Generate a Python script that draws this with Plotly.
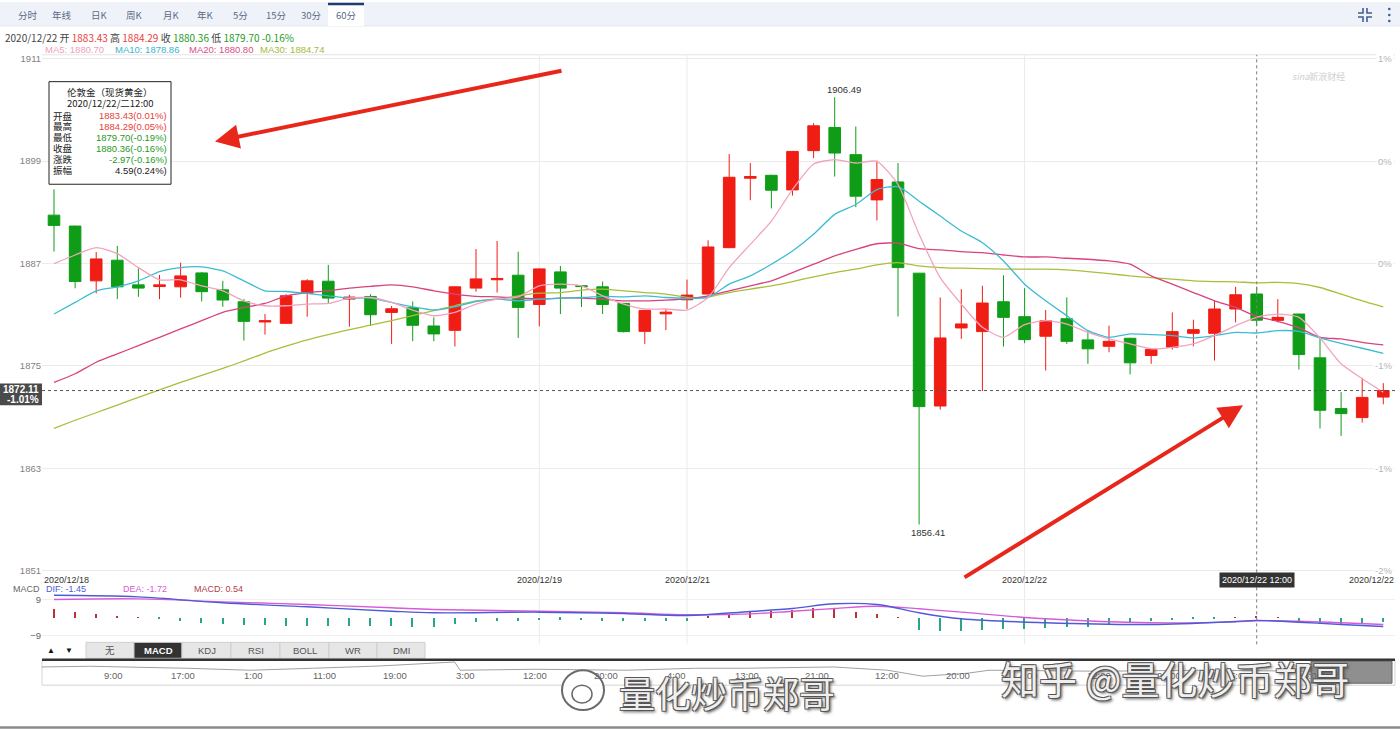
import plotly.graph_objects as go

W, H = 1400, 730
def fx(p): return p / W
def fy(p): return 1 - p / H

# ---------------- data ----------------
OPEN = [1892.67, 1891.39, 1884.97, 1887.39, 1884.50, 1884.30, 1884.27, 1885.90, 1883.92, 1882.52,
        1880.15, 1879.99, 1883.50, 1884.93, 1882.83, 1883.14, 1881.27, 1881.82, 1879.68, 1879.17,
        1884.12, 1885.10, 1885.63, 1882.20, 1886.02, 1884.40, 1884.27, 1882.33, 1879.05, 1881.10,
        1882.75, 1883.42, 1888.86, 1897.00, 1897.34, 1895.63, 1900.23, 1902.95, 1899.76, 1894.46,
        1896.56, 1885.87, 1870.30, 1879.45, 1879.02, 1882.52, 1880.77, 1878.48, 1880.53, 1878.05,
        1877.30, 1878.24, 1876.22, 1877.19, 1878.82, 1878.82, 1881.67, 1883.43, 1880.34, 1881.08,
        1875.95, 1870.00, 1868.94, 1871.35]
HIGH = [1895.70, 1891.45, 1888.35, 1889.06, 1886.45, 1885.67, 1887.10, 1886.00, 1884.97, 1882.83,
        1881.08, 1883.42, 1885.17, 1886.84, 1883.34, 1883.40, 1882.02, 1882.55, 1880.69, 1884.30,
        1888.70, 1889.64, 1888.39, 1886.40, 1886.72, 1884.47, 1884.89, 1882.40, 1881.50, 1881.67,
        1885.12, 1889.72, 1899.83, 1898.78, 1897.40, 1900.20, 1903.45, 1906.49, 1903.06, 1899.06,
        1898.78, 1885.90, 1883.03, 1884.00, 1884.39, 1885.63, 1884.12, 1881.55, 1883.03, 1879.13,
        1879.72, 1878.30, 1877.00, 1881.27, 1880.42, 1882.64, 1884.27, 1884.29, 1882.83, 1881.10,
        1878.43, 1871.93, 1873.61, 1872.98]
LOW = [1888.40, 1884.10, 1883.50, 1882.83, 1883.10, 1882.83, 1883.00, 1882.56, 1881.93, 1877.97,
       1878.67, 1879.90, 1880.77, 1882.25, 1879.60, 1879.68, 1877.58, 1877.90, 1877.90, 1877.27,
       1883.70, 1883.60, 1878.28, 1879.63, 1881.08, 1881.90, 1881.08, 1878.90, 1877.58, 1879.20,
       1881.67, 1883.40, 1888.80, 1894.42, 1893.46, 1894.97, 1899.36, 1897.19, 1893.61, 1892.05,
       1880.80, 1856.41, 1869.88, 1878.16, 1872.05, 1877.27, 1877.66, 1874.46, 1877.58, 1875.25,
       1876.60, 1874.00, 1875.25, 1876.92, 1877.30, 1875.63, 1880.10, 1879.70, 1880.10, 1874.58,
       1867.66, 1866.80, 1868.36, 1870.50]
CLOSE = [1891.47, 1884.89, 1887.54, 1884.27, 1884.12, 1884.50, 1885.55, 1883.70, 1882.72, 1880.22,
         1880.30, 1883.22, 1884.97, 1882.95, 1883.07, 1881.00, 1881.70, 1879.76, 1878.75, 1884.27,
         1885.20, 1885.25, 1881.86, 1886.37, 1884.12, 1884.30, 1882.20, 1879.02, 1881.50, 1881.30,
         1883.30, 1888.94, 1897.11, 1897.20, 1895.59, 1900.14, 1903.14, 1899.95, 1894.89, 1896.84,
         1886.52, 1870.23, 1878.28, 1879.92, 1882.37, 1880.69, 1878.08, 1880.30, 1877.88, 1877.00,
         1877.88, 1875.36, 1876.95, 1879.02, 1879.25, 1881.67, 1883.34, 1880.36, 1880.69, 1876.33,
         1869.80, 1869.41, 1871.31, 1872.11]

MA5 = [1886.99, 1888.00, 1888.86, 1888.16, 1886.52, 1885.09, 1885.09, 1884.39, 1883.80, 1882.63,
       1882.05, 1882.05, 1882.25, 1882.32, 1882.95, 1883.02, 1882.44, 1881.55, 1880.88, 1881.27,
       1882.25, 1882.83, 1883.10, 1884.39, 1884.58, 1884.39, 1883.22, 1882.25, 1881.67, 1881.67,
       1881.55, 1883.02, 1886.52, 1889.25, 1891.97, 1895.67, 1898.66, 1899.18, 1898.78, 1898.98,
       1896.26, 1890.42, 1885.35, 1882.25, 1879.52, 1878.35, 1879.83, 1880.30, 1879.91, 1878.93,
       1878.16, 1877.58, 1877.00, 1877.18, 1877.58, 1878.55, 1879.72, 1880.70, 1881.08, 1880.69,
       1878.28, 1875.25, 1873.50, 1871.93]
MA10 = [1881.08, 1882.44, 1883.80, 1884.27, 1884.97, 1886.05, 1886.52, 1886.60, 1886.14, 1884.97,
        1883.80, 1883.72, 1883.49, 1883.22, 1882.95, 1882.95, 1882.44, 1881.93, 1881.55, 1881.93,
        1882.55, 1882.83, 1882.63, 1882.83, 1882.95, 1883.02, 1883.14, 1883.10, 1883.22, 1883.02,
        1882.93, 1883.02, 1884.58, 1885.55, 1886.92, 1888.47, 1890.42, 1892.76, 1893.92, 1895.67,
        1896.00, 1894.31, 1892.56, 1890.81, 1889.44, 1887.30, 1884.58, 1882.63, 1880.88, 1879.13,
        1878.35, 1878.75, 1878.67, 1878.55, 1878.28, 1878.55, 1878.93, 1878.86, 1879.13, 1879.05,
        1878.28, 1877.65, 1877.07, 1876.48]
MA20 = [1873.06, 1874.08, 1875.43, 1876.41, 1877.38, 1878.35, 1879.33, 1880.30, 1881.27, 1881.85,
        1882.32, 1883.22, 1883.60, 1883.80, 1884.12, 1884.33, 1884.50, 1884.27, 1883.80, 1883.42,
        1883.14, 1883.10, 1882.95, 1882.83, 1882.95, 1882.95, 1882.83, 1882.63, 1882.63, 1882.72,
        1882.87, 1883.22, 1883.80, 1884.39, 1884.97, 1885.94, 1886.92, 1887.89, 1888.67, 1889.32,
        1889.40, 1888.74, 1888.59, 1888.39, 1888.27, 1888.00, 1887.77, 1887.77, 1887.62, 1887.50,
        1887.30, 1886.92, 1885.55, 1884.58, 1883.60, 1882.63, 1881.85, 1880.80, 1880.22, 1879.45,
        1878.35, 1878.16, 1877.77, 1877.46]
MA30 = [1867.69, 1868.63, 1869.51, 1870.41, 1871.31, 1872.20, 1873.06, 1873.88, 1874.70, 1875.58,
        1876.51, 1877.31, 1878.05, 1878.67, 1879.26, 1879.77, 1880.30, 1880.88, 1881.47, 1882.05,
        1882.63, 1882.83, 1883.22, 1883.53, 1883.60, 1883.88, 1884.00, 1883.80, 1883.60, 1883.42,
        1883.04, 1883.10, 1883.60, 1884.00, 1884.39, 1884.89, 1885.44, 1885.94, 1886.34, 1886.84,
        1887.11, 1886.72, 1886.52, 1886.45, 1886.40, 1886.34, 1886.34, 1886.34, 1886.25, 1886.05,
        1885.82, 1885.55, 1885.35, 1885.17, 1884.97, 1884.89, 1884.85, 1884.74, 1884.79, 1884.65,
        1884.19, 1883.42, 1882.63, 1881.93]

DIF_IDX = [0, 4, 8, 12, 16, 18, 23, 27, 30, 33, 35, 37, 39, 41, 43, 47, 52, 56, 57, 59, 61, 63]
DIF = [11.15, 10.35, 7.35, 5.35, 3.15, 2.35, 2.65, 2.0, 1.0, 3.0, 4.5, 6.85, 6.5, 2.35, -0.65,
       -2.65, -3.5, -2.0, -1.45, -2.4, -3.5, -4.5]
DEA_IDX = [0, 4, 8, 12, 16, 18, 23, 27, 30, 33, 35, 37, 39, 41, 43, 47, 52, 56, 57, 59, 61, 63]
DEA = [9.0, 9.35, 7.85, 6.5, 4.85, 4.0, 3.15, 2.35, 1.35, 1.8, 3.15, 4.5, 5.65, 4.35, 2.65,
       -0.65, -2.65, -2.2, -1.72, -1.9, -2.65, -3.5]
MACD_HIST = [4.5, 3.0, 2.0, 0.5, 0.1, -0.8, -1.7, -2.5, -3.0, -3.8,
             -3.8, -4.0, -4.0, -4.2, -4.2, -4.2, -4.2, -4.5, -4.5, -3.2,
             -2.0, -1.5, -1.5, -1.2, -1.0, -1.2, -1.5, -1.5, -1.5, -1.5,
             -1.5, 0.8, 1.7, 2.8, 3.3, 4.2, 5.0, 4.5, 2.8, 2.2,
             0.3, -6.2, -6.7, -6.7, -6.2, -5.5, -5.5, -5.0, -4.5, -4.5,
             -3.8, -2.5, -1.7, -1.2, -0.8, -0.5, 0.3, 0.54, 0.3, -2.5,
             -3.0, -3.0, -2.5, -2.0]

PRICE_TICKS = [1851, 1863, 1875, 1887, 1899, 1911]
PCT_LABELS = ["-2%", "-1%", "-1%", "0%", "0%", "1%"]
DAY_IDX = [23, 30, 46]
DAY_LABELS = ["2020/12/19", "2020/12/21", "2020/12/22"]
FIRST_DAY = "2020/12/18"
LAST_DAY = "2020/12/22"
SEL_IDX = 57
SEL_LABEL = "2020/12/22 12:00"
LAST_PRICE = 1872.11
LAST_PCT = "-1.01%"
PREV_CLOSE = 1883.33
TABS = ["分时", "年线", "日K", "周K", "月K", "年K", "5分", "15分", "30分", "60分"]
IND_TABS = ["无", "MACD", "KDJ", "RSI", "BOLL", "WR", "DMI"]
NAV_T = [0.0, 0.035, 0.107, 0.154, 0.2, 0.25, 0.305, 0.309, 0.365, 0.431, 0.483, 0.52, 0.585,
         0.625, 0.651, 0.684, 0.7, 0.782, 0.856, 0.938]
NAV_V = [18.3, 19, 17, 15, 17, 19.3, 23.3, 15, 16, 15, 17, 17, 18.3, 15, 9, 12, 15, 14, 15, 14]
NAV_LABELS = ["9:00", "17:00", "1:00", "11:00", "19:00", "3:00", "12:00", "20:00", "4:00",
              "13:00", "21:00", "12:00", "20:00", "4:00", "12:00", "21:00", "5:00", "13:00"]

# ---------------- styles / layout helpers ----------------
RED = "#f01d14"
GREEN = "#0f9d18"
C_MA5, C_MA10, C_MA20, C_MA30 = "#f2a3bf", "#3cbcd3", "#d8437f", "#a9bf3b"
FONT = "Liberation Sans, Arial, Noto Sans CJK SC, sans-serif"
CJK = "Noto Sans CJK SC, Liberation Sans, sans-serif"

X0_PX, DX_PX = 54.0, 21.1          # pixel of candle 0, pixel step
PY_1911, PX_PER_UNIT = 57.0, 8.567
L_PX, R_PX = 42, 1395
MAIN_TOP, MAIN_BOT = 53, 575
MACD_TOP, MACD_BOT, MACD_ZERO, MACD_UPP = 592, 645, 618, 0.5

def idx_of(px): return (px - X0_PX) / DX_PX
def val_of(py): return 1911 - (py - PY_1911) / PX_PER_UNIT

IDX = list(range(len(OPEN)))

fig = go.Figure()

fig.add_trace(go.Candlestick(
    x=IDX, open=OPEN, high=HIGH, low=LOW, close=CLOSE,
    increasing=dict(line=dict(color=RED, width=1), fillcolor=RED),
    decreasing=dict(line=dict(color=GREEN, width=1), fillcolor=GREEN),
    whiskerwidth=0, xaxis="x", yaxis="y", hoverinfo="skip"))

for arr, col in [(MA30, C_MA30), (MA20, C_MA20), (MA10, C_MA10), (MA5, C_MA5)]:
    fig.add_trace(go.Scatter(x=IDX, y=arr, mode="lines", xaxis="x", yaxis="y",
                             line=dict(color=col, width=1.3, shape="spline", smoothing=0.6),
                             hoverinfo="skip"))

fig.add_trace(go.Bar(x=IDX, y=MACD_HIST, width=0.07, xaxis="x2", yaxis="y2",
                     marker=dict(color=["#b8323c" if v > 0 else "#2aa58c" for v in MACD_HIST],
                                 line=dict(width=0)), hoverinfo="skip"))
fig.add_trace(go.Scatter(x=DEA_IDX, y=DEA, mode="lines", xaxis="x2", yaxis="y2",
                         line=dict(color="#d85ad8", width=1.4, shape="spline"), hoverinfo="skip"))
fig.add_trace(go.Scatter(x=DIF_IDX, y=DIF, mode="lines", xaxis="x2", yaxis="y2",
                         line=dict(color="#4c5cd6", width=1.4, shape="spline"), hoverinfo="skip"))

fig.add_trace(go.Scatter(x=NAV_T, y=NAV_V, mode="lines", xaxis="x3", yaxis="y3",
                         line=dict(color="#a0a0a0", width=1), hoverinfo="skip"))

shapes = []
ann = []

def rect(x0, y0, x1, y1, fill, line=None, lw=1, layer="below"):
    shapes.append(dict(type="rect", xref="paper", yref="paper", x0=fx(x0), x1=fx(x1),
                       y0=fy(y1), y1=fy(y0), fillcolor=fill,
                       line=dict(color=line or fill, width=lw if line else 0), layer=layer))

def hline(x0, x1, y, color, w=1, dash="solid", layer="below"):
    shapes.append(dict(type="line", xref="paper", yref="paper", x0=fx(x0), x1=fx(x1),
                       y0=fy(y), y1=fy(y), line=dict(color=color, width=w, dash=dash), layer=layer))

def text(x, y, t, size=10, color="#333", xa="left", ya="middle", family=FONT, **kw):
    ann.append(dict(x=fx(x), y=fy(y), xref="paper", yref="paper", text=t, showarrow=False,
                    xanchor=xa, yanchor=ya, font=dict(size=size, color=color, family=family), **kw))

# toolbar
rect(0, 0, 1400, 24, "#eff3f9")
hline(0, 1400, 24, "#dfe5ee")
rect(328, 1, 364, 24, "#ffffff")
hline(328, 364, 2, "#1f3c74", w=2.5)
tab_cx = [28, 62, 99, 134, 171, 206, 240, 276, 311, 346]
for t, cx in zip(TABS, tab_cx):
    text(cx, 13, t, size=9.5, color="#5a6a88", xa="center", family=CJK)
icon = "#3f5f94"
for (a, b, c, d) in [(1358, 11, 1363, 6), (1372, 11, 1367, 6), (1358, 15, 1363, 20), (1372, 15, 1367, 20)]:
    shapes.append(dict(type="path", xref="paper", yref="paper",
                       path=f"M{fx(a)},{fy(b)} L{fx(c)},{fy(b)} L{fx(c)},{fy(d)}",
                       line=dict(color=icon, width=1.6)))
for yy in (7, 13, 19):
    shapes.append(dict(type="circle", xref="paper", yref="paper", x0=fx(1388), x1=fx(1390.6),
                       y0=fy(yy + 1.3), y1=fy(yy - 1.3), fillcolor=icon, line=dict(width=0)))

# header info
o, h, l, c = OPEN[SEL_IDX], HIGH[SEL_IDX], LOW[SEL_IDX], CLOSE[SEL_IDX]
chg = c - PREV_CLOSE
rc, gc = "#e8403a", "#1f9a25"
text(3, 36, f"2020/12/22 开 <span style='color:{rc}'>{o:.2f}</span> 高 <span style='color:{rc}'>{h:.2f}</span>"
     f" 收 <span style='color:{gc}'>{c:.2f}</span> 低 <span style='color:{gc}'>{l:.2f}</span>"
     f" <span style='color:{gc}'>{chg / PREV_CLOSE * 100:.2f}%</span>", size=10, color="#444", family=CJK)
for xx, lab, v, col in [(43, "MA5", MA5, "#f09fba"), (113, "MA10", MA10, "#38b5cf"),
                        (187, "MA20", MA20, "#dc4d88"), (258, "MA30", MA30, "#a4b93c")]:
    text(xx, 47.5, f"{lab}: {v[SEL_IDX]:.2f}", size=9.5, color=col)

# main panel borders / grid
hline(L_PX, R_PX, MAIN_TOP, "#e4e4e4")
for d in DAY_IDX:
    shapes.append(dict(type="line", xref="x", yref="paper", x0=d, x1=d, y0=fy(MACD_BOT), y1=fy(MAIN_TOP),
                       line=dict(color="#ebebeb", width=1), layer="below"))
shapes.append(dict(type="line", xref="x", yref="paper", x0=SEL_IDX, x1=SEL_IDX, y0=fy(MACD_BOT),
                   y1=fy(MAIN_TOP), line=dict(color="#7a7a7a", width=1, dash="dot"), layer="above"))
shapes.append(dict(type="line", xref="paper", yref="y", x0=fx(L_PX), x1=fx(R_PX), y0=LAST_PRICE,
                   y1=LAST_PRICE, line=dict(color="#555", width=1, dash="3px,3px"), layer="above"))
rect(0, 383, 42, 405, "#4a4a4a", layer="above")
ann.append(dict(x=fx(41), y=fy(389), xref="paper", yref="paper", text=f"<b>{LAST_PRICE:.2f}</b>",
                showarrow=False, xanchor="right", font=dict(size=10, color="white", family=FONT)))
ann.append(dict(x=fx(41), y=fy(399), xref="paper", yref="paper", text=f"<b>{LAST_PCT}</b>",
                showarrow=False, xanchor="right", font=dict(size=10, color="white", family=FONT)))

# right percent labels
for pv, pl in zip(PRICE_TICKS, PCT_LABELS):
    ann.append(dict(x=fx(1394), y=pv, xref="paper", yref="y", text=pl, showarrow=False,
                    xanchor="right", yanchor="middle", bgcolor="white",
                    font=dict(size=9.5, color="#b5b5b5", family=FONT)))

# extreme labels
hi_i = HIGH.index(max(HIGH)); lo_i = LOW.index(min(LOW))
ann.append(dict(x=hi_i, y=HIGH[hi_i], xref="x", yref="y", text=f"{HIGH[hi_i]:.2f}", showarrow=False,
                xanchor="center", yanchor="bottom", xshift=9, yshift=0,
                font=dict(size=9.5, color="#333", family=FONT)))
ann.append(dict(x=lo_i, y=LOW[lo_i], xref="x", yref="y", text=f"{LOW[lo_i]:.2f}", showarrow=False,
                xanchor="center", yanchor="top", xshift=9, yshift=0,
                font=dict(size=9.5, color="#333", family=FONT)))

# info box
rect(49, 80, 171, 183, "white", line="#222", lw=1, layer="above")
text(110, 90, "伦敦金（现货黄金）", size=9.5, color="#222", xa="center", family=CJK)
text(110, 101, "2020/12/22/二12:00", size=9.5, color="#222", xa="center", family=CJK)
rows = [("开盘", f"{o:.2f}({(o - PREV_CLOSE) / PREV_CLOSE * 100:.2f}%)", rc),
        ("最高", f"{h:.2f}({(h - PREV_CLOSE) / PREV_CLOSE * 100:.2f}%)", rc),
        ("最低", f"{l:.2f}({(l - PREV_CLOSE) / PREV_CLOSE * 100:.2f}%)", gc),
        ("收盘", f"{c:.2f}({chg / PREV_CLOSE * 100:.2f}%)", gc),
        ("涨跌", f"{chg:.2f}({chg / PREV_CLOSE * 100:.2f}%)", gc),
        ("振幅", f"{h - l:.2f}({(h - l) / PREV_CLOSE * 100:.2f}%)", "#222")]
for k, (lab, val, col) in enumerate(rows):
    yy = 114 + k * 11
    text(51, yy, lab, size=9.5, color="#222", family=CJK)
    text(169, yy, val, size=9.5, color=col, xa="right")

# sina logo
text(1290, 75, "<i>sina</i>新浪财经", size=9, color="#cfcfcf", family=CJK)

# date label row
text(L_PX, 580, FIRST_DAY, size=9, color="#333")
for d, lab in zip(DAY_IDX, DAY_LABELS):
    ann.append(dict(x=d, y=fy(580), xref="x", yref="paper", text=lab, showarrow=False,
                    xanchor="center", yanchor="middle", font=dict(size=9, color="#333", family=FONT)))
text(1396, 580, LAST_DAY, size=9, color="#333", xa="right")
ann.append(dict(x=SEL_IDX, y=fy(580), xref="x", yref="paper", text=SEL_LABEL, showarrow=False,
                xanchor="center", yanchor="middle", bgcolor="#333", borderpad=2,
                font=dict(size=9, color="white", family=FONT)))

# MACD header
text(42, 589, "MACD", size=9, color="#666", xa="right")
text(44, 589, f"DIF: {DIF[DIF_IDX.index(SEL_IDX)]:.2f}", size=9, color="#4c5cd6")
text(121, 589, f"DEA: {DEA[DEA_IDX.index(SEL_IDX)]:.2f}", size=9, color="#d85ad8")
text(192, 589, f"MACD: {MACD_HIST[SEL_IDX]:.2f}", size=9, color="#b0404a")

# indicator buttons
text(51, 651, "▲", size=8, color="#111", xa="center")
text(69, 651, "▼", size=8, color="#111", xa="center")
btn_x = [86, 134, 182, 231, 280, 329, 377, 425]
for k, lab in enumerate(IND_TABS):
    sel = lab == "MACD"
    rect(btn_x[k], 643, btn_x[k + 1], 659, "#333333" if sel else "#e6e6e6", line="#cfcfcf", lw=1)
    ann.append(dict(x=fx((btn_x[k] + btn_x[k + 1]) / 2), y=fy(651), xref="paper", yref="paper",
                    text=f"<b>{lab}</b>" if sel else lab, showarrow=False, xanchor="center",
                    yanchor="middle",
                    font=dict(size=9.5, color="#ffffff" if sel else "#555", family=FONT)))

# navigator
rect(L_PX, 661, R_PX, 686, "rgba(0,0,0,0)", line="#d5d5d5", lw=1)
hline(L_PX, R_PX, 660.5, "#333", w=2.5, layer="above")
rect(1311, 662, 1392, 684, "rgba(115,115,115,0.8)", line="#666", lw=1, layer="above")
for k, lab in enumerate(NAV_LABELS):
    text(113 + k * 70.4, 676, lab, size=9.5, color="#666", xa="center")
hline(0, 1400, 728.5, "#8a8a8a", w=2.5)

# arrows
for (hx, hy, tx, ty) in [(215, 140, 563, 69), (1243, 405, 963, 578)]:
    ann.append(dict(x=fx(hx), y=fy(hy), xref="paper", yref="paper", text="", showarrow=True,
                    ax=tx - hx, ay=ty - hy, arrowhead=2, arrowsize=1.2, arrowwidth=4,
                    arrowcolor="#e8261a", standoff=0))

# watermarks
shadow = "1px 1px 0 #555, -1px -1px 0 #555, 1px -1px 0 #555, -1px 1px 0 #555, 2px 2px 3px #444"
shapes.append(dict(type="circle", xref="paper", yref="paper", x0=fx(562), x1=fx(604), y0=fy(711),
                   y1=fy(671), fillcolor="rgba(255,255,255,0.85)", line=dict(color="#6a6a6a", width=2),
                   layer="above"))
shapes.append(dict(type="circle", xref="paper", yref="paper", x0=fx(572), x1=fx(592), y0=fy(704),
                   y1=fy(686), fillcolor="rgba(255,255,255,0.9)", line=dict(color="#6a6a6a", width=1.5),
                   layer="above"))
ann.append(dict(x=fx(727), y=fy(693), xref="paper", yref="paper", text="量化炒币郑哥", showarrow=False,
                xanchor="center", yanchor="middle",
                font=dict(size=36, color="rgba(255,255,255,0.92)", family=CJK, shadow=shadow)))
ann.append(dict(x=fx(1175), y=fy(678), xref="paper", yref="paper", text="知乎 @量化炒币郑哥",
                showarrow=False, xanchor="center", yanchor="middle",
                font=dict(size=38, color="rgba(255,255,255,0.92)", family=CJK, shadow=shadow)))

xr = [idx_of(L_PX), idx_of(R_PX)]
fig.update_layout(
    width=W, height=H, margin=dict(l=0, r=0, t=0, b=0), autosize=False,
    paper_bgcolor="white", plot_bgcolor="white", showlegend=False,
    boxgap=0.45, boxgroupgap=0, bargap=0,
    font=dict(family=FONT),
    xaxis=dict(domain=[fx(L_PX), fx(R_PX)], range=xr, anchor="y", showgrid=False, zeroline=False,
               showticklabels=False, rangeslider=dict(visible=False), fixedrange=True),
    yaxis=dict(domain=[fy(MAIN_BOT), fy(MAIN_TOP)], range=[val_of(MAIN_BOT), val_of(MAIN_TOP)],
               anchor="x", tickvals=PRICE_TICKS, ticktext=[str(v) for v in PRICE_TICKS],
               showgrid=True, gridcolor="#ebebeb", gridwidth=1, zeroline=False, ticks="",
               tickfont=dict(size=9.5, color="#7f7f7f")),
    xaxis2=dict(domain=[fx(L_PX), fx(R_PX)], range=xr, anchor="y2", matches="x", showgrid=False,
                zeroline=False, showticklabels=False),
    yaxis2=dict(domain=[fy(MACD_BOT), fy(MACD_TOP)],
                range=[(MACD_ZERO - MACD_BOT) * MACD_UPP, (MACD_ZERO - MACD_TOP) * MACD_UPP],
                anchor="x2", tickvals=[-9, 9], showgrid=True, gridcolor="#f0f0f0", zeroline=False,
                ticks="", tickfont=dict(size=9.5, color="#666")),
    xaxis3=dict(domain=[fx(L_PX), fx(R_PX)], range=[0, 1], anchor="y3", visible=False),
    yaxis3=dict(domain=[fy(686), fy(661)], range=[0, 25], anchor="x3", visible=False),
    shapes=shapes, annotations=ann,
)

fig.write_html("out.html", config={"displayModeBar": False},
               post_script="document.body.style.margin='0';document.body.style.overflow='hidden';")
